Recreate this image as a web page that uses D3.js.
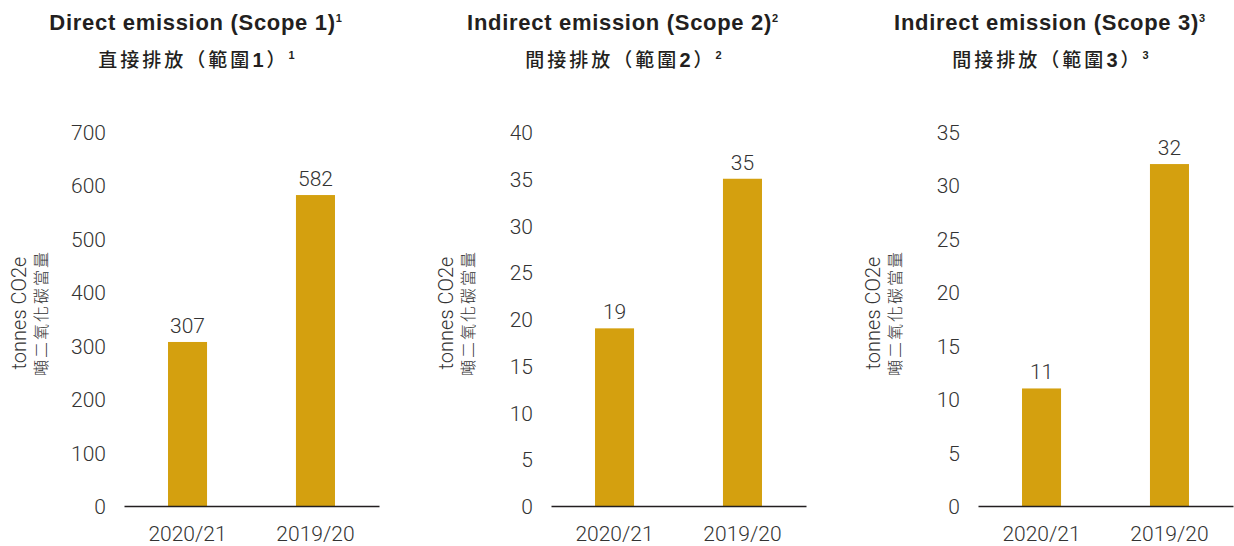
<!DOCTYPE html>
<html>
<head>
<meta charset="utf-8">
<script src="https://cdn.jsdelivr.net/npm/d3@7"></script>
<style>
  html, body { margin: 0; padding: 0; background: #fff; }
  svg { display: block; }
  .num { font-family: Roboto, "Liberation Sans", Arial, sans-serif; font-weight: 300; font-size: 21px; fill: #333; }
  .ttl { font-family: "Liberation Sans", Arial, sans-serif; font-weight: bold; font-size: 22px; fill: #231f20; letter-spacing: 0.7px; }
  .zh  { font-family: "Noto Sans CJK TC", sans-serif; font-size: 19px; fill: #231f20; letter-spacing: 3px; }
  .yt  { font-family: Roboto, "Liberation Sans", Arial, sans-serif; font-weight: 300; font-size: 20px; fill: #333; }
  .ytzh { font-family: "Noto Sans CJK TC", sans-serif; font-weight: 300; font-size: 16px; fill: #333; letter-spacing: 2px; }
</style>
</head>
<body>
<svg id="chart" width="1234" height="546"></svg>
<script>
// Reporting periods
const periods = ["2020/21", "2019/20"];

// Emissions in tonnes CO2e
const scope1 = [307, 582];
const scope2 = [19, 35];
const scope3 = [11, 32];

// Panel headings
const titlesEn = ["Direct emission (Scope 1)", "Indirect emission (Scope 2)", "Indirect emission (Scope 3)"];
const titlesZh = ["直接排放（範圍", "間接排放（範圍", "間接排放（範圍"];
const scopeNo = ["1", "2", "3"];
const footnotes = ["1", "2", "3"];

// Y-axis ticks per panel
const ticks1 = [0, 100, 200, 300, 400, 500, 600, 700];
const ticks2 = [0, 5, 10, 15, 20, 25, 30, 35, 40];
const ticks3 = [0, 5, 10, 15, 20, 25, 30, 35];

const yLabelEn = "tonnes CO2e";
const yLabelZh = "噸二氧化碳當量";

const panels = [
  { values: scope1, ticks: ticks1 },
  { values: scope2, ticks: ticks2 },
  { values: scope3, ticks: ticks3 }
];

const BAR = "#d4a00f";
const svg = d3.select("#chart");
const panelGap = 427;

panels.forEach((p, i) => {
  const g = svg.append("g").attr("transform", `translate(${i * panelGap},0)`);

  const x = d3.scaleBand().domain(periods).range([124, 379])
    .paddingInner(0.695).paddingOuter(0.344);
  const y = d3.scaleLinear().domain([0, d3.max(p.ticks)]).range([506, 132]);

  // headings
  const t1 = g.append("text").attr("class", "ttl").attr("x", 196).attr("y", 30)
    .attr("text-anchor", "middle");
  t1.append("tspan").text(titlesEn[i]);
  t1.append("tspan").attr("font-size", 11).attr("dy", -8).text(footnotes[i]);

  const t2 = g.append("text").attr("class", "zh").attr("x", 198).attr("y", 67)
    .attr("text-anchor", "middle");
  t2.append("tspan").attr("font-weight", 500).text(titlesZh[i]);
  t2.append("tspan").attr("font-family", "Liberation Sans, Arial, sans-serif")
    .attr("font-weight", "bold").attr("font-size", 20).text(scopeNo[i]);
  t2.append("tspan").attr("font-weight", 500).text("）");
  t2.append("tspan").attr("font-family", "Liberation Sans, Arial, sans-serif")
    .attr("font-weight", "bold").attr("font-size", 11).attr("dy", -8).text(footnotes[i]);

  // y axis labels (no line)
  const yAxis = d3.axisLeft(y).tickValues(p.ticks).tickSize(0).tickPadding(0);
  const ya = g.append("g").attr("transform", "translate(106,0)").call(yAxis);
  ya.select(".domain").remove();
  ya.selectAll("text").attr("class", "num").attr("dy", "0.36em").attr("fill", null);

  // y title
  const yt = g.append("g").attr("transform", "translate(0,313) rotate(-90)");
  yt.append("text").attr("class", "yt").attr("x", 0).attr("y", 26)
    .attr("text-anchor", "middle").text(yLabelEn);
  yt.append("text").attr("class", "ytzh").attr("x", 0).attr("y", 47)
    .attr("text-anchor", "middle").text(yLabelZh);

  // bars
  g.selectAll("rect.bar").data(p.values).enter().append("rect")
    .attr("class", "bar")
    .attr("x", (d, j) => x(periods[j]))
    .attr("width", x.bandwidth())
    .attr("y", d => y(d))
    .attr("height", d => y(0) - y(d))
    .attr("fill", BAR);

  // value labels
  g.selectAll("text.val").data(p.values).enter().append("text")
    .attr("class", "num val")
    .attr("x", (d, j) => x(periods[j]) + x.bandwidth() / 2)
    .attr("y", d => y(d) - 9)
    .attr("text-anchor", "middle")
    .text(d => d);

  // x axis baseline and period labels
  const xAxis = d3.axisBottom(x).tickSize(0).tickPadding(0);
  const xa = g.append("g").attr("transform", `translate(0,${y(0)})`).call(xAxis);
  xa.select(".domain").attr("stroke", "#231f20").attr("stroke-width", 1.6);
  xa.selectAll("text").attr("class", "num").attr("y", 35).attr("dy", 0).attr("fill", null);
});
</script>
</body>
</html>
